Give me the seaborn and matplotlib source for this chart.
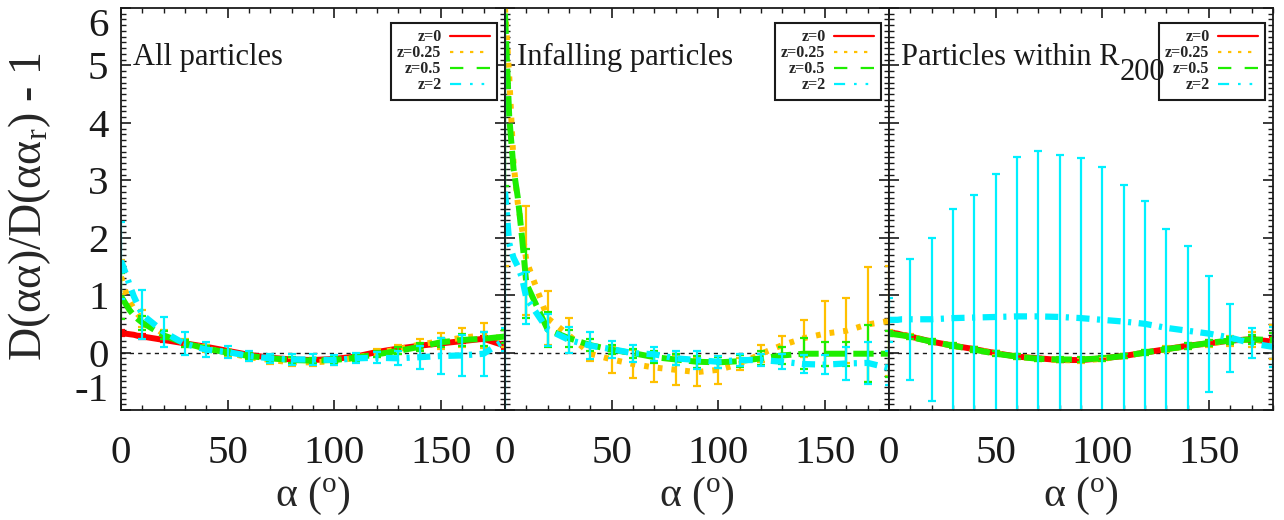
import numpy as np
import matplotlib
matplotlib.use("Agg")
import matplotlib.pyplot as plt
from matplotlib.lines import Line2D
from matplotlib.ticker import MultipleLocator
import seaborn as sns

# Opening angle (degrees) at which the curves are sampled (finer near alpha = 0)
ALPHA_LINE = [0, 2, 4, 6, 8, 10, 20, 30, 40, 50, 60, 70, 80, 90,
              100, 110, 120, 130, 140, 150, 160, 170, 180]
# Opening angles carrying 1-sigma error bars
ALPHA_ERR = [0, 10, 20, 30, 40, 50, 60, 70, 80, 90,
             100, 110, 120, 130, 140, 150, 160, 170, 180]

REDSHIFTS = ["z=0", "z=0.25", "z=0.5", "z=2"]
PANEL_TITLES = ["All particles", "Infalling particles", "Particles within R"]
TITLE_SUBSCRIPT = "200"
XTICKS = [0, 50, 100, 150]
XTICK_LABELS = ["0", "50", "100", "150"]
YTICKS = [-1, 0, 1, 2, 3, 4, 5, 6]
YTICK_LABELS = ["-1", "0", "1", "2", "3", "4", "5", "6"]

# --- All particles: D(aa)/D(aa_r) - 1 ---
all_z0 = [0.34, 0.33, 0.32, 0.31, 0.29, 0.28, 0.22, 0.16, 0.10, 0.03, -0.04, -0.09,
          -0.12, -0.13, -0.11, -0.07, 0.01, 0.07, 0.12, 0.16, 0.20, 0.24, 0.12]
all_z025 = [1.32, 1.08, 0.90, 0.76, 0.66, 0.60, 0.32, 0.17, 0.07, -0.01, -0.08, -0.13,
            -0.17, -0.17, -0.15, -0.09, -0.01, 0.06, 0.14, 0.20, 0.26, 0.30, 0.24]
all_z05 = [0.98, 0.86, 0.74, 0.65, 0.58, 0.52, 0.30, 0.16, 0.07, 0.00, -0.06, -0.10,
           -0.13, -0.14, -0.13, -0.09, -0.03, 0.03, 0.10, 0.18, 0.22, 0.24, 0.28]
all_z2 = [1.60, 1.40, 1.18, 0.98, 0.82, 0.66, 0.36, 0.15, 0.05, 0.01, -0.06, -0.10,
          -0.12, -0.12, -0.13, -0.10, -0.09, -0.10, -0.08, -0.06, -0.05, -0.02, 0.22]
all_err_z0 = [0.05, 0.04, 0.03, 0.03, 0.03, 0.02, 0.02, 0.02, 0.02, 0.02,
              0.02, 0.02, 0.02, 0.02, 0.03, 0.03, 0.03, 0.04, 0.05]
all_err_z025 = [0.30, 0.15, 0.08, 0.07, 0.06, 0.06, 0.06, 0.07, 0.07, 0.07,
                0.07, 0.07, 0.07, 0.08, 0.10, 0.14, 0.16, 0.22, 0.15]
all_err_z05 = [0.40, 0.12, 0.07, 0.06, 0.05, 0.05, 0.05, 0.05, 0.05, 0.05,
               0.05, 0.05, 0.05, 0.06, 0.07, 0.08, 0.10, 0.12, 0.12]
all_err_z2 = [0.67, 0.43, 0.26, 0.20, 0.13, 0.10, 0.08, 0.08, 0.10, 0.10,
              0.09, 0.09, 0.10, 0.12, 0.20, 0.32, 0.36, 0.38, 0.20]

# --- Infalling particles (no z=0 sample) ---
inf_z025 = [6.00, 4.80, 3.30, 2.60, 2.15, 1.60, 0.60, 0.30, -0.02, -0.12, -0.20, -0.26,
            -0.30, -0.34, -0.30, -0.20, -0.02, 0.13, 0.25, 0.33, 0.38, 0.49, 0.55]
inf_z05 = [5.90, 4.10, 3.20, 2.70, 2.00, 1.20, 0.40, 0.25, 0.13, 0.05, -0.01, -0.08,
           -0.12, -0.16, -0.17, -0.15, -0.10, -0.05, -0.02, -0.02, -0.02, -0.02, -0.02]
inf_z2 = [2.80, 1.90, 1.65, 1.50, 1.30, 0.95, 0.40, 0.22, 0.12, 0.06, -0.01, -0.03,
          -0.10, -0.13, -0.16, -0.13, -0.13, -0.16, -0.20, -0.21, -0.19, -0.18, -0.27]
inf_err_z025 = [4.50, 0.95, 0.47, 0.30, 0.12, 0.24, 0.25, 0.26, 0.26, 0.24,
                0.24, 0.10, 0.15, 0.15, 0.32, 0.56, 0.57, 1.00, 0.95]
inf_err_z05 = [3.00, 0.60, 0.30, 0.15, 0.10, 0.08, 0.08, 0.10, 0.10, 0.10,
               0.10, 0.10, 0.12, 0.15, 0.27, 0.21, 0.21, 0.50, 0.40]
inf_err_z2 = [3.90, 0.45, 0.28, 0.22, 0.23, 0.15, 0.15, 0.12, 0.12, 0.16,
              0.10, 0.10, 0.10, 0.13, 0.16, 0.17, 0.29, 0.37, 0.30]

# --- Particles within R200 ---
r200_z0 = [0.35, 0.34, 0.33, 0.31, 0.30, 0.28, 0.19, 0.12, 0.06, -0.01, -0.07, -0.10,
           -0.13, -0.13, -0.10, -0.06, 0.00, 0.06, 0.12, 0.16, 0.21, 0.23, 0.19]
r200_z025 = [0.34, 0.33, 0.32, 0.31, 0.29, 0.28, 0.19, 0.12, 0.05, -0.01, -0.07, -0.11,
             -0.13, -0.14, -0.11, -0.06, 0.00, 0.06, 0.11, 0.16, 0.20, 0.23, 0.18]
r200_z05 = [0.33, 0.32, 0.31, 0.30, 0.29, 0.27, 0.19, 0.12, 0.05, -0.02, -0.07, -0.11,
            -0.12, -0.12, -0.10, -0.06, 0.00, 0.06, 0.11, 0.17, 0.21, 0.23, 0.22]
r200_z2 = [0.57, 0.57, 0.57, 0.58, 0.58, 0.58, 0.58, 0.60, 0.61, 0.62, 0.63, 0.63,
           0.62, 0.60, 0.57, 0.54, 0.50, 0.43, 0.38, 0.33, 0.26, 0.16, 0.10]
r200_err_z0 = [0.03, 0.03, 0.03, 0.03, 0.03, 0.03, 0.03, 0.03, 0.03, 0.03,
               0.03, 0.03, 0.03, 0.03, 0.03, 0.03, 0.04, 0.05, 0.08]
r200_err_z025 = [0.05, 0.05, 0.04, 0.04, 0.04, 0.04, 0.04, 0.04, 0.04, 0.04,
                 0.04, 0.04, 0.04, 0.05, 0.05, 0.06, 0.08, 0.13, 0.30]
r200_err_z05 = [0.04, 0.04, 0.04, 0.04, 0.04, 0.04, 0.04, 0.04, 0.04, 0.04,
                0.04, 0.04, 0.04, 0.04, 0.05, 0.05, 0.06, 0.08, 0.12]
r200_err_z2 = [0.38, 1.05, 1.42, 1.90, 2.14, 2.49, 2.78, 2.88, 2.82, 2.79,
               2.67, 2.38, 2.14, 1.72, 1.47, 1.01, 0.59, 0.26, 0.35]

PANEL_SERIES = [
    [all_z0, all_z025, all_z05, all_z2],
    [None, inf_z025, inf_z05, inf_z2],
    [r200_z0, r200_z025, r200_z05, r200_z2],
]
PANEL_ERRORS = [
    [all_err_z0, all_err_z025, all_err_z05, all_err_z2],
    [None, inf_err_z025, inf_err_z05, inf_err_z2],
    [r200_err_z0, r200_err_z025, r200_err_z05, r200_err_z2],
]

COLORS = ["#FF0000", "#FFC000", "#1EEE00", "#00F0FF"]
LINE_STYLES = ["-", (0, (0.8, 1.5)), (0, (3.4, 1.2)), (0, (2.1, 1.2, 0.5, 1.2))]
LINE_WIDTHS = [4.3, 4.3, 4.3, 4.5]
LEGEND_STYLES = ["-", (0, (1.5, 3.0)), (0, (6, 6)), (0, (5, 4, 1.2, 4, 1.2, 4))]

sns.set_theme(style="ticks")
plt.rcParams["font.family"] = ["Liberation Serif", "DejaVu Serif"]
plt.rcParams["mathtext.fontset"] = "custom"
plt.rcParams["mathtext.rm"] = "Liberation Serif"
plt.rcParams["mathtext.it"] = "Liberation Serif:italic"
plt.rcParams["mathtext.bf"] = "Liberation Serif:bold"

W, H = 1284, 520
fig = plt.figure(figsize=(W / 100, H / 100), dpi=100)
fig.patch.set_facecolor("white")
panel_left = [121, 505, 889]
axes = [fig.add_axes([l / W, 110 / H, 384 / W, 402 / H]) for l in panel_left]

err_idx = [ALPHA_LINE.index(a) for a in ALPHA_ERR]

for i, (ax, title, series, errors) in enumerate(zip(axes, PANEL_TITLES, PANEL_SERIES, PANEL_ERRORS)):
    ax.set_facecolor("white")
    ax.axhline(0, color="k", lw=1.0, ls=(0, (3, 3)), zorder=1.5)

    for k, (vals, errs) in enumerate(zip(series, errors)):
        if vals is None:
            continue
        sns.lineplot(x=ALPHA_LINE, y=vals, ax=ax, color=COLORS[k],
                     linewidth=LINE_WIDTHS[k], linestyle=LINE_STYLES[k],
                     sort=False, legend=False, zorder=3 + k)
        centres = np.asarray(vals)[err_idx]
        ax.errorbar(ALPHA_ERR, centres, yerr=errs, fmt="none", ecolor=COLORS[k],
                    elinewidth=1.6, capsize=3, capthick=1.6, zorder=3.5 + k)

    ax.set_xlim(0, 180)
    ax.set_ylim(-1, 6)
    ax.set_xticks(XTICKS, labels=XTICK_LABELS)
    ax.xaxis.set_minor_locator(MultipleLocator(10))
    ax.set_yticks(YTICKS, labels=YTICK_LABELS)
    ax.yaxis.set_minor_locator(MultipleLocator(0.1))
    ax.tick_params(which="both", direction="in", top=True, right=True, colors="k")
    ax.tick_params(which="major", length=7, width=1.2)
    ax.tick_params(which="minor", length=3.5, width=1.0)
    ax.tick_params(axis="x", which="major", labelsize=29.5, pad=18)
    ax.tick_params(axis="y", which="major", labelsize=29.5, pad=9)
    for s in ax.spines.values():
        s.set_linewidth(1.3)
        s.set_color("k")
        s.set_zorder(10)

    if i == 0:
        ticks = ax.yaxis.get_major_ticks()
        ticks[0].label1.set_va("bottom")
        ticks[-1].label1.set_va("top")
        ax.set_ylabel("D(αα)/D(αα$_{\\mathrm{r}}$) - 1", fontsize=33)
        ax.yaxis.set_label_coords((30 - 121) / 384, (410 - 207) / 402)
        ax.yaxis.label.set_va("center")
    else:
        ax.tick_params(axis="y", labelleft=False)

    ax.set_xlabel("α ($^{\\mathrm{o}}$)", fontsize=30)
    ax.xaxis.set_label_coords(0.5, (410 - 496) / 402)
    ax.xaxis.label.set_va("center")

    t = ax.text(0.031, 0.858, title, transform=ax.transAxes, fontsize=22,
                ha="left", va="baseline", color="k", zorder=21)
    if i == 2:
        ax.annotate(TITLE_SUBSCRIPT, xy=(1, 0), xycoords=t, xytext=(0.5, 0),
                    textcoords="offset points", fontsize=22, ha="left", va="center",
                    color="k", zorder=21)

    handles = [Line2D([], [], color=c, lw=1.6, linestyle=ls)
               for c, ls in zip(COLORS, LEGEND_STYLES)]
    leg = ax.legend(handles, REDSHIFTS, loc="upper right", bbox_to_anchor=(0.978, 0.963),
                    borderaxespad=0, markerfirst=False,
                    prop={"weight": "bold", "size": 11.5, "family": ["Liberation Serif"]},
                    frameon=True, fancybox=False, framealpha=1, edgecolor="k",
                    handlelength=2.5, handletextpad=0.55, labelspacing=0.0, borderpad=0.4)
    leg.get_frame().set_linewidth(1.5)
    leg.set_zorder(20)

fig.savefig("out.png", dpi=100, facecolor="white")
